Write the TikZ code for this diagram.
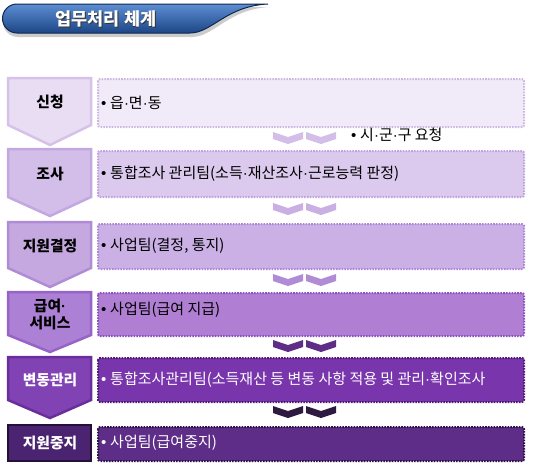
\documentclass[tikz,border=0pt]{standalone}
\usepackage{fontspec}
\setmainfont{Noto Sans CJK KR}
\newfontfamily\dotfont{Liberation Sans}
\newcommand\kdot{{\dotfont\char"00B7}}
\newcommand\kbul{{\dotfont\char"2022}\hspace{0.25em}}
\definecolor{pA1}{HTML}{E9DDF3}\definecolor{pA2}{HTML}{D6C2E9}
\definecolor{bA1}{HTML}{F1EAF8}\definecolor{bA2}{HTML}{CDB8E4}
\definecolor{pB1}{HTML}{D3BEEA}\definecolor{pB2}{HTML}{C3A7E0}
\definecolor{bB1}{HTML}{DCCAEE}\definecolor{bB2}{HTML}{C0A2DE}
\definecolor{pC1}{HTML}{C6A8E1}\definecolor{pC2}{HTML}{B08CD6}
\definecolor{bC1}{HTML}{CAB0E4}\definecolor{bC2}{HTML}{AE88D5}
\definecolor{pD1}{HTML}{AC80D5}\definecolor{pD2}{HTML}{9763C7}
\definecolor{bD1}{HTML}{B07FD3}\definecolor{bD2}{HTML}{8A52BE}
\definecolor{pE1}{HTML}{8142B4}\definecolor{pE2}{HTML}{6A2E9C}
\definecolor{bE1}{HTML}{7935AC}\definecolor{bE2}{HTML}{4A1D72}
\definecolor{pF1}{HTML}{4A2470}\definecolor{pF2}{HTML}{26103A}
\definecolor{bF1}{HTML}{5E2D88}\definecolor{bF2}{HTML}{2C1344}
\definecolor{cA}{HTML}{D2BEE8}\definecolor{cB}{HTML}{C9AFE4}
\definecolor{cC}{HTML}{B08CD6}\definecolor{cD}{HTML}{5E2D88}
\definecolor{cE}{HTML}{2E1A40}
\definecolor{bannerTop}{HTML}{5C8ED2}\definecolor{bannerBot}{HTML}{1C4686}
\definecolor{bannerLine}{HTML}{10284F}
\tikzset{
  pentbox/.style={line width=2.5pt, line join=miter},
  infobox/.style={line width=2pt, dash pattern=on 1.6pt off 1.2pt, rounded corners=2pt},
  lbl/.style={font=\fontsize{14.8}{17}\selectfont\bfseries, align=center, inner sep=0pt},
  txt/.style={font=\fontsize{15}{17}\selectfont, anchor=west, inner sep=0pt},
  titletext/.style={font=\fontsize{17.5}{19}\selectfont\bfseries}
}
\begin{document}
\begin{tikzpicture}[x=1pt,y=-1pt]
\useasboundingbox (0,0) rectangle (537,463);
% banner
\fill[gray!40] (18,7) -- (270,7) .. controls (228,9) and (214,37) .. (192,37) -- (18,37) arc[start angle=90,end angle=270,radius=15] -- cycle;
\shade[top color=bannerTop, bottom color=bannerBot, draw=bannerLine, line width=1pt]
  (17,4) -- (268,4) .. controls (226,6) and (212,33) .. (190,33) -- (17,33) arc[start angle=90,end angle=270,radius=14.5] -- cycle;
\node[titletext, text=black!80] at (106.8,19.8) {업무처리 체계};
\node[titletext, text=white] (title) at (106,19) {업무처리 체계};
% row 1
\draw[pentbox, fill=pA1, draw=pA2] (8,78) -- (91,78) -- (91,125) -- (50,145) -- (8,125) -- cycle;
\node[lbl] (l1) at (50,102) {신청};
\draw[infobox, fill=bA1, draw=bA2] (98,79) rectangle (524,127);
\node[txt] (t1) at (101,103) {\kbul 읍\kdot 면\kdot 동};
% chevrons 1-2
\fill[cA] (273,132) -- (288,137) -- (303,132) -- (303,139) -- (288,144) -- (273,139) -- cycle;
\fill[cA] (306,132) -- (321,137) -- (336,132) -- (336,139) -- (321,144) -- (306,139) -- cycle;
\node[txt] (req) at (351,135) {\kbul 시\kdot 군\kdot 구 요청};
% row 2
\draw[pentbox, fill=pB1, draw=pB2] (8,149) -- (91,149) -- (91,197) -- (50,216) -- (8,197) -- cycle;
\node[lbl] (l2) at (50,174) {조사};
\draw[infobox, fill=bB1, draw=bB2] (98,151) rectangle (524,197);
\node[txt] (t2) at (101,174) {\kbul 통합조사 관리팀(소득\kdot 재산조사\kdot 근로능력 판정)};
\fill[cB] (273,203) -- (288,208) -- (303,203) -- (303,210) -- (288,215) -- (273,210) -- cycle;
\fill[cB] (306,203) -- (321,208) -- (336,203) -- (336,210) -- (321,215) -- (306,210) -- cycle;
% row 3
\draw[pentbox, fill=pC1, draw=pC2] (8,222) -- (91,222) -- (91,268) -- (50,287) -- (8,268) -- cycle;
\node[lbl] (l3) at (50,246) {지원결정};
\draw[infobox, fill=bC1, draw=bC2] (98,224) rectangle (524,269);
\node[txt] (t3) at (101,246) {\kbul 사업팀(결정, 통지)};
\fill[cC] (273,274) -- (288,279) -- (303,274) -- (303,281) -- (288,286) -- (273,281) -- cycle;
\fill[cC] (306,274) -- (321,279) -- (336,274) -- (336,281) -- (321,286) -- (306,281) -- cycle;
% row 4
\draw[pentbox, fill=pD1, draw=pD2] (8,292) -- (91,292) -- (91,335) -- (50,352) -- (8,335) -- cycle;
\node[lbl] (l4) at (50,314) {급여\kdot\\서비스};
\draw[infobox, fill=bD1, draw=bD2] (98,293) rectangle (524,336);
\node[txt] (t4) at (101,310) {\kbul 사업팀(급여 지급)};
\fill[cD] (273,340) -- (288,345) -- (303,340) -- (303,347) -- (288,352) -- (273,347) -- cycle;
\fill[cD] (306,340) -- (321,345) -- (336,340) -- (336,347) -- (321,352) -- (306,347) -- cycle;
% row 5
\draw[pentbox, fill=pE1, draw=pE2] (8,357) -- (91,357) -- (91,400) -- (50,418) -- (8,400) -- cycle;
\node[lbl, text=white] (l5) at (50,380) {변동관리};
\draw[infobox, fill=bE1, draw=bE2] (98,358) rectangle (524,402);
\node[txt, text=white] (t5) at (101,380) {\kbul 통합조사관리팀(소득재산 등 변동 사항 적용 및 관리\kdot 확인조사};
\fill[cE] (273,406) -- (288,411) -- (303,406) -- (303,413) -- (288,418) -- (273,413) -- cycle;
\fill[cE] (306,406) -- (321,411) -- (336,406) -- (336,413) -- (321,418) -- (306,413) -- cycle;
% row 6
\draw[pentbox, fill=pF1, draw=pF2] (8,425) rectangle (91,461);
\node[lbl, text=white] (l6) at (50,443) {지원중지};
\draw[infobox, fill=bF1, draw=bF2] (98,427) rectangle (524,461);
\node[txt, text=white] (t6) at (101,443) {\kbul 사업팀(급여중지)};
\end{tikzpicture}
\end{document}
